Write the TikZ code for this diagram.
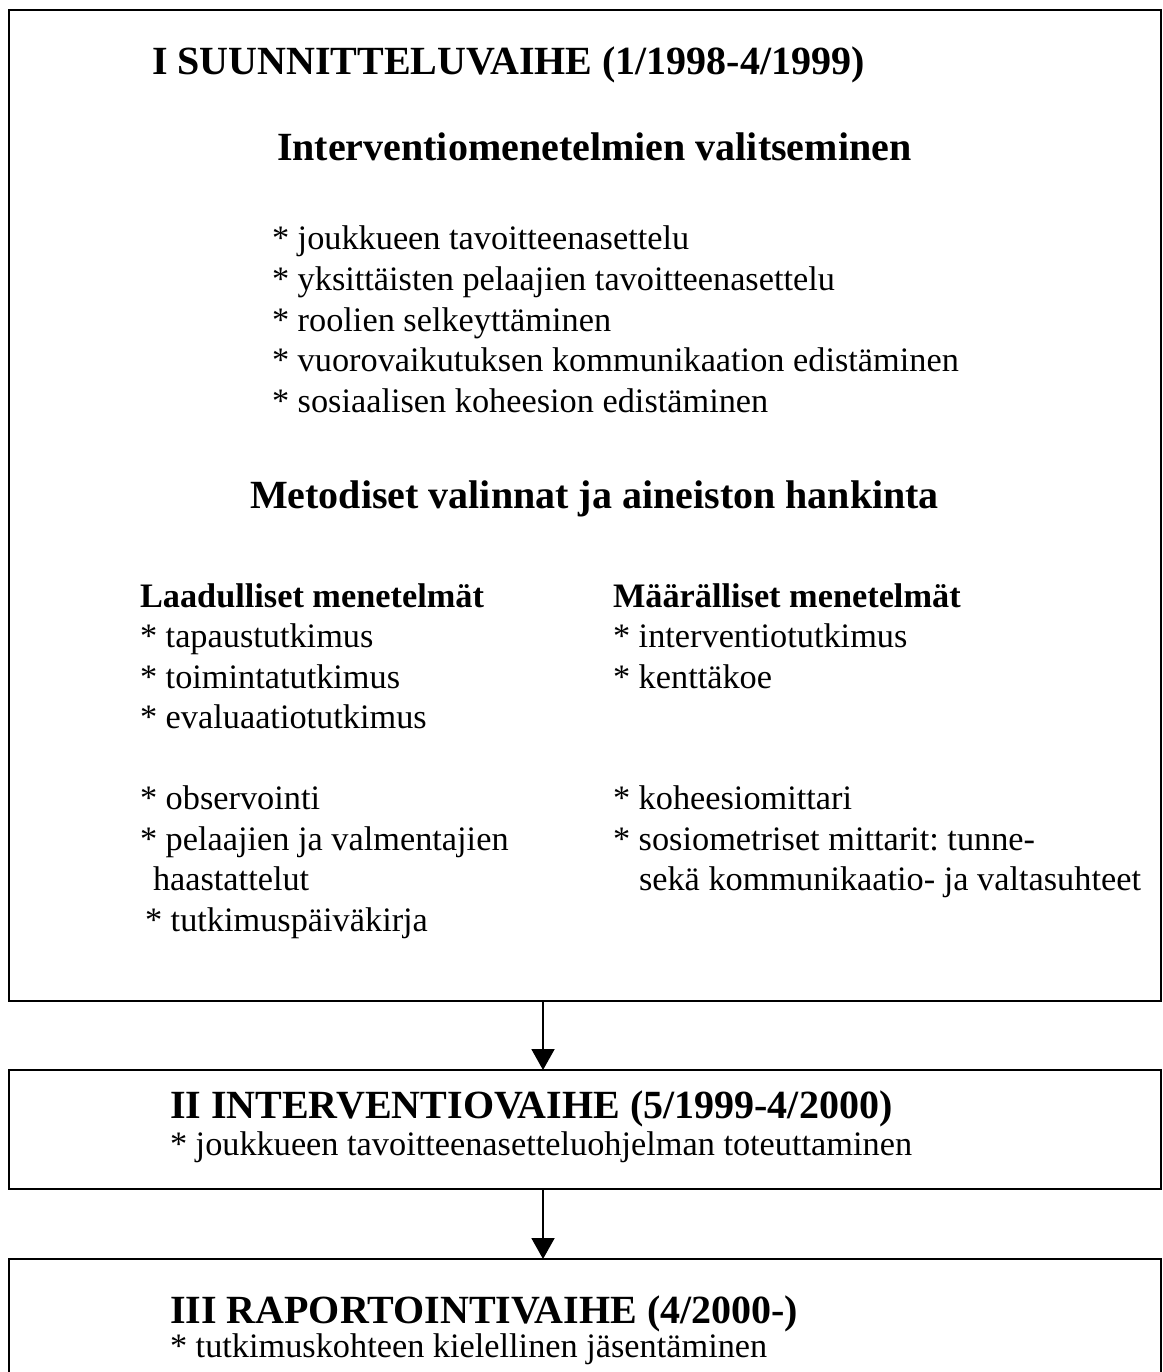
\documentclass[tikz,border=0pt]{standalone}
\usepackage{fontspec}
\setmainfont{Liberation Serif}
\usetikzlibrary{arrows.meta}
\frenchspacing
\begin{document}
\begin{tikzpicture}[x=1pt,y=-1pt,
  phasebox/.style={draw,line width=2.8pt,inner sep=0pt,outer sep=0pt,rectangle},
  txt/.style={anchor=base west,inner sep=0pt,outer sep=0pt,font=\fontsize{34.3}{40}\selectfont},
  head/.style={anchor=base west,inner sep=0pt,outer sep=0pt,font=\fontsize{40}{46}\selectfont\bfseries},
  subhead/.style={anchor=base west,inner sep=0pt,outer sep=0pt,font=\fontsize{34.3}{40}\selectfont\bfseries},
  flow/.style={line width=2pt,-{Triangle[width=23pt,length=21pt]}}]
\useasboundingbox (0,0) rectangle (1162,1372);
\clip (0,0) rectangle (1162,1372);
% boxes
\node[phasebox,minimum width=1152pt,minimum height=991pt] (box1) at (585,505.5) {};
\node[phasebox,minimum width=1152pt,minimum height=119pt] (box2) at (585,1129.5) {};
\node[phasebox,minimum width=1152pt,minimum height=161pt] (box3) at (585,1339.5) {};
% connectors
\coordinate (ax) at (543,0);
\draw[flow] (box1.south -| ax) -- (box2.north -| ax);
\draw[flow] (box2.south -| ax) -- (box3.north -| ax);
% box 1
\node[head] (t1) at (152,75) {I SUUNNITTELUVAIHE (1/1998-4/1999)};
\node[head] (h1) at (277,161) {Interventiomenetelmien valitseminen};
\node[txt] (l1) at (272,250) {* joukkueen tavoitteenasettelu};
\node[txt] (l2) at (272,290) {* yksittäisten pelaajien tavoitteenasettelu};
\node[txt] (l3) at (272,331) {* roolien selkeyttäminen};
\node[txt] (l4) at (272,371) {* vuorovaikutuksen kommunikaation edistäminen};
\node[txt] (l5) at (272,412) {* sosiaalisen koheesion edistäminen};
\node[head] (h2) at (250,508) {Metodiset valinnat ja aineiston hankinta};
% left column
\node[subhead] (qa) at (140,607) {Laadulliset menetelmät};
\node[txt] (qa1) at (140,647) {* tapaustutkimus};
\node[txt] (qa2) at (140,688) {* toimintatutkimus};
\node[txt] (qa3) at (140,728) {* evaluaatiotutkimus};
\node[txt] (qa4) at (140,809) {* observointi};
\node[txt] (qa5) at (140,850) {* pelaajien ja valmentajien};
\node[txt] (qa6) at (153,890) {haastattelut};
\node[txt] (qa7) at (145,931) {* tutkimuspäiväkirja};
% right column
\node[subhead] (qn) at (613,607) {Määrälliset menetelmät};
\node[txt] (qn1) at (613,647) {* interventiotutkimus};
\node[txt] (qn2) at (613,688) {* kenttäkoe};
\node[txt] (qn3) at (613,809) {* koheesiomittari};
\node[txt] (qn4) at (613,850) {* sosiometriset mittarit: tunne-};
\node[txt] (qn5) at (639,890) {sekä kommunikaatio- ja valtasuhteet};
% box 2
\node[head] (t2) at (170,1118) {II INTERVENTIOVAIHE (5/1999-4/2000)};
\node[txt] (b2) at (170,1155) {* joukkueen tavoitteenasetteluohjelman toteuttaminen};
% box 3
\node[head] (t3) at (170,1323) {III RAPORTOINTIVAIHE (4/2000-)};
\node[txt] (b3) at (170,1357) {* tutkimuskohteen kielellinen jäsentäminen};
\end{tikzpicture}
\end{document}
